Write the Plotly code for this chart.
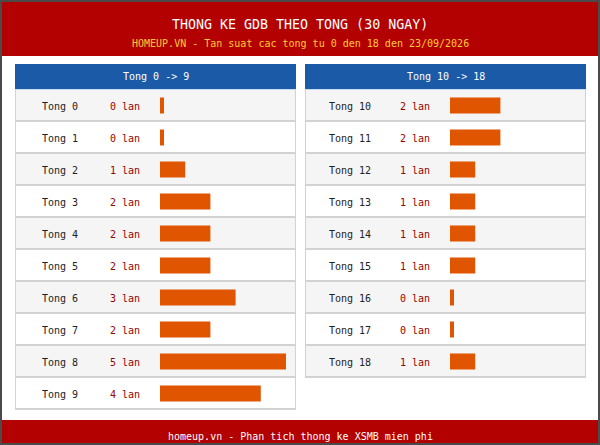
import plotly.graph_objects as go

# ---------------- data ----------------
left_labels = ["Tong 0", "Tong 1", "Tong 2", "Tong 3", "Tong 4",
               "Tong 5", "Tong 6", "Tong 7", "Tong 8", "Tong 9"]
left_counts = [0, 0, 1, 2, 2, 2, 3, 2, 5, 4]
right_labels = ["Tong 10", "Tong 11", "Tong 12", "Tong 13", "Tong 14",
                "Tong 15", "Tong 16", "Tong 17", "Tong 18"]
right_counts = [2, 2, 1, 1, 1, 1, 0, 0, 1]
panel_titles = ["Tong 0 -> 9", "Tong 10 -> 18"]
title_text = "THONG KE GDB THEO TONG (30 NGAY)"
subtitle_text = "HOMEUP.VN - Tan suat cac tong tu 0 den 18 den 23/09/2026"
footer_text = "homeup.vn - Phan tich thong ke XSMB mien phi"
count_suffix = "lan"

# ---------------- style ----------------
W, H = 600, 445
FONT = "DejaVu Sans Mono"
RED = "#b30000"
BLUE = "#1b5aa7"
BAR = "#e05500"
CNT = "#990000"
ROW_A = "#f5f5f5"
ROW_B = "#ffffff"
GRID = "#d2d2d2"

PANEL_X = [15, 305]
PANEL_W = 281
ROW_TOP = 90
ROW_H = 32
BAR_OFF = 145
PX_PER_UNIT = 25.2
XMAX = 5
MIN_BAR = 4 / PX_PER_UNIT


def px(x):
    return x / W


def py(y):
    return 1 - y / H


def label(text, x, y, size, color, yref="paper"):
    return dict(text=text, xref="paper", yref=yref, x=x, y=y, showarrow=False,
                xanchor="center", yanchor="middle",
                font=dict(family=FONT, size=size, color=color))


fig = go.Figure()
shapes = []
annotations = []

# header / footer
shapes.append(dict(type="rect", xref="paper", yref="paper", x0=0, x1=1,
                   y0=py(56), y1=py(0), fillcolor=RED, line_width=0, layer="below"))
shapes.append(dict(type="rect", xref="paper", yref="paper", x0=0, x1=1,
                   y0=py(445), y1=py(420), fillcolor=RED, line_width=0, layer="below"))
annotations.append(label(title_text, 0.5, py(24), 13.3, "white"))
annotations.append(label(subtitle_text, 0.5, py(43), 10, "#ffcc33"))
annotations.append(label(footer_text, 0.5, py(436), 10, "white"))

panels = [(left_labels, left_counts), (right_labels, right_counts)]
for p, (labels, counts) in enumerate(panels):
    n = len(labels)
    x0 = PANEL_X[p]
    x1 = x0 + PANEL_W
    xa = "x" if p == 0 else "x2"
    ya = "y" if p == 0 else "y2"
    # panel header
    shapes.append(dict(type="rect", xref="paper", yref="paper", x0=px(x0), x1=px(x1),
                       y0=py(89), y1=py(64), fillcolor=BLUE, line_width=0, layer="below"))
    annotations.append(label(panel_titles[p], px(x0 + PANEL_W / 2), py(76.5), 10, "white"))
    # panel frame
    bottom = ROW_TOP + ROW_H * n
    shapes.append(dict(type="rect", xref="paper", yref="paper", x0=px(x0), x1=px(x1),
                       y0=py(bottom), y1=py(89), fillcolor=GRID, line_width=0, layer="below"))
    shapes.append(dict(type="rect", xref="paper", yref="paper", x0=px(x0), x1=px(x1),
                       y0=py(90), y1=py(89), fillcolor="#c9d8ea", line_width=0, layer="below"))
    for i in range(n):
        t = ROW_TOP + ROW_H * i
        shapes.append(dict(type="rect", xref="paper", yref="paper",
                           x0=px(x0 + 1), x1=px(x1 - 1), y0=py(t + ROW_H - 2), y1=py(t),
                           fillcolor=ROW_A if i % 2 == 0 else ROW_B, line_width=0,
                           layer="below"))
        annotations.append(label(labels[i], px(x0 + 44.5), i + 0.03, 10, "#222222", yref=ya))
        annotations.append(label(f"{counts[i]} {count_suffix}", px(x0 + 109.5), i + 0.03, 10,
                                 CNT, yref=ya))
    disp = [c if c > 0 else MIN_BAR for c in counts]
    fig.add_trace(go.Bar(x=disp, y=list(range(n)), orientation="h", xaxis=xa, yaxis=ya,
                         marker=dict(color=BAR, line_width=0), width=0.5,
                         hoverinfo="skip", showlegend=False))

axis_off = dict(visible=False, showgrid=False, zeroline=False, fixedrange=True)
lx0 = PANEL_X[0] + BAR_OFF
rx0 = PANEL_X[1] + BAR_OFF
nL, nR = len(left_labels), len(right_labels)
Y0 = ROW_TOP - 0.5
fig.update_layout(
    width=W, height=H, autosize=False,
    margin=dict(l=0, r=0, t=0, b=0, pad=0),
    paper_bgcolor="white", plot_bgcolor="rgba(0,0,0,0)",
    xaxis=dict(domain=[px(lx0), px(lx0 + PX_PER_UNIT * XMAX)], range=[0, XMAX], **axis_off),
    xaxis2=dict(domain=[px(rx0), px(rx0 + PX_PER_UNIT * XMAX)], range=[0, XMAX],
                anchor="y2", **axis_off),
    yaxis=dict(domain=[py(Y0 + ROW_H * nL), py(Y0)],
               range=[nL - 0.5, -0.5], anchor="x", **axis_off),
    yaxis2=dict(domain=[py(Y0 + ROW_H * nR), py(Y0)],
                range=[nR - 0.5, -0.5], anchor="x2", **axis_off),
    shapes=shapes + [dict(type="rect", xref="paper", yref="paper", x0=0, x1=1, y0=0, y1=1,
                          line=dict(color="#4a4a4a", width=4), fillcolor="rgba(0,0,0,0)")],
    annotations=annotations,
    bargap=0.5,
    showlegend=False,
)

fig.write_html("out.html", config={"displayModeBar": False},
               post_script="document.body.style.margin='0';document.body.style.overflow='hidden';")
